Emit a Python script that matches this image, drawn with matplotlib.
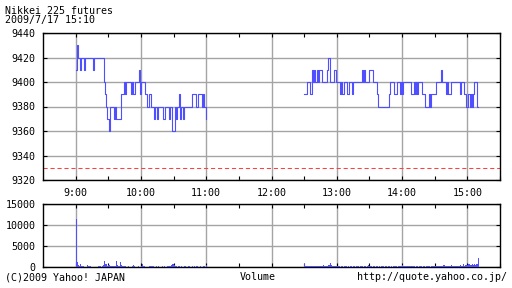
import matplotlib
matplotlib.use("Agg")
import matplotlib.pyplot as plt
import numpy as np

title = "Nikkei 225 futures"
stamp = "2009/7/17 15:10"
prev_close = 9330

hour_ticks = [9, 10, 11, 12, 13, 14, 15]
hour_labels = ["9:00", "10:00", "11:00", "12:00", "13:00", "14:00", "15:00"]
price_ticks = [9320, 9340, 9360, 9380, 9400, 9420, 9440]
vol_ticks = [0, 5000, 10000, 15000]

# morning session 9:00-11:00, one value per minute
am_price = [
    9410, 9430, 9420, 9420, 9410, 9420, 9420, 9420, 9410, 9420,
    9420, 9420, 9420, 9420, 9420, 9420, 9410, 9420, 9420, 9420,
    9420, 9420, 9420, 9420, 9420, 9420, 9400, 9390, 9380, 9370,
    9370, 9360, 9380, 9380, 9380, 9370, 9380, 9370, 9370, 9370,
    9370, 9370, 9390, 9390, 9400, 9390, 9400, 9400, 9400, 9400,
    9400, 9390, 9400, 9390, 9390, 9400, 9400, 9400, 9410, 9390,
    9400, 9400, 9400, 9400, 9390, 9390, 9380, 9390, 9390, 9380,
    9380, 9380, 9370, 9380, 9380, 9370, 9380, 9380, 9380, 9380,
    9370, 9370, 9380, 9380, 9380, 9380, 9370, 9380, 9380, 9360,
    9360, 9380, 9370, 9380, 9380, 9390, 9370, 9380, 9380, 9370,
    9380, 9380, 9380, 9380, 9380, 9380, 9380, 9390, 9390, 9390,
    9390, 9380, 9390, 9390, 9390, 9390, 9380, 9390, 9380, 9380,
    9370]

# afternoon session 12:30-15:10, one value per minute
pm_price = [
    9390, 9390, 9390, 9400, 9400, 9390, 9390, 9410, 9400, 9410,
    9400, 9400, 9410, 9400, 9410, 9410, 9400, 9400, 9400, 9400,
    9400, 9410, 9420, 9420, 9400, 9400, 9400, 9410, 9410, 9400,
    9400, 9400, 9400, 9390, 9400, 9390, 9390, 9400, 9400, 9390,
    9390, 9400, 9400, 9400, 9390, 9400, 9400, 9400, 9400, 9400,
    9400, 9400, 9400, 9410, 9400, 9410, 9400, 9400, 9400, 9400,
    9410, 9410, 9410, 9400, 9400, 9400, 9400, 9390, 9380, 9380,
    9380, 9380, 9380, 9380, 9380, 9380, 9380, 9380, 9390, 9400,
    9400, 9400, 9400, 9390, 9390, 9400, 9400, 9400, 9390, 9400,
    9390, 9400, 9400, 9400, 9400, 9400, 9400, 9400, 9390, 9390,
    9390, 9400, 9390, 9400, 9390, 9400, 9400, 9400, 9390, 9390,
    9390, 9380, 9380, 9380, 9380, 9390, 9380, 9390, 9390, 9390,
    9390, 9400, 9400, 9400, 9400, 9400, 9410, 9400, 9400, 9400,
    9390, 9400, 9390, 9390, 9390, 9400, 9400, 9400, 9400, 9400,
    9400, 9400, 9400, 9390, 9400, 9400, 9400, 9390, 9390, 9380,
    9380, 9390, 9380, 9390, 9380, 9390, 9400, 9400, 9400, 9380,
    9380]

am_volume = [
    11500, 1300, 500, 300, 600, 300, 200, 150, 100, 100,
    400, 350, 300, 300, 100, 80, 60, 50, 60, 80,
    100, 150, 200, 100, 300, 400, 1400, 800, 600, 300,
    500, 400, 200, 300, 350, 250, 300, 1500, 400, 200,
    150, 1200, 400, 300, 200, 150, 100, 100, 350, 100,
    80, 100, 150, 500, 120, 100, 80, 300, 100, 80,
    120, 600, 200, 150, 100, 80, 100, 150, 200, 120,
    300, 150, 100, 80, 300, 100, 150, 80, 100, 200,
    100, 300, 100, 80, 200, 350, 150, 300, 500, 700,
    400, 200, 150, 100, 200, 120, 100, 300, 100, 80,
    250, 100, 80, 300, 150, 100, 80, 300, 100, 120,
    80, 300, 100, 80, 200, 100, 80, 300, 120, 100,
    400]

pm_volume = [
    600, 300, 250, 200, 300, 250, 200, 300, 250, 200,
    300, 200, 250, 300, 200, 300, 250, 400, 300, 250,
    200, 300, 400, 500, 950, 400, 300, 250, 200, 150,
    300, 200, 150, 100, 150, 200, 100, 150, 200, 100,
    150, 100, 200, 150, 100, 300, 150, 100, 200, 150,
    100, 150, 300, 150, 100, 200, 150, 100, 150, 400,
    200, 150, 100, 150, 200, 100, 150, 200, 100, 150,
    100, 200, 150, 100, 150, 200, 100, 150, 200, 100,
    150, 100, 200, 150, 300, 100, 150, 200, 350, 150,
    400, 300, 200, 150, 200, 300, 150, 200, 250, 150,
    200, 150, 100, 200, 150, 100, 300, 150, 100, 200,
    150, 100, 150, 300, 150, 200, 100, 150, 200, 250,
    200, 150, 300, 200, 150, 350, 200, 150, 400, 200,
    150, 300, 250, 200, 150, 500, 200, 250, 300, 200,
    250, 300, 200, 400, 300, 250, 600, 300, 400, 500,
    500, 600, 400, 500, 650, 500, 600, 550, 600, 700,
    2250]

am_start, pm_start = 9.0, 12.5

FONT = "DejaVu Sans Mono"
FS = 7.2
BLUE = "#4F4FFF"
GRID = "#A4A4A4"

plt.rcParams["font.family"] = [FONT]

fig = plt.figure(figsize=(5.12, 2.88), dpi=100)
W, H = 512, 288
ax = fig.add_axes([43 / W, (H - 180) / H, 457 / W, 147 / H])
axv = fig.add_axes([43 / W, (H - 267) / H, 457 / W, 63 / H])

am_t = am_start + np.arange(len(am_price)) / 60.0
pm_t = pm_start + np.arange(len(pm_price)) / 60.0

ax.plot(am_t, am_price, drawstyle="steps-post", color=BLUE, lw=0.8, zorder=3)
ax.plot(pm_t, pm_price, drawstyle="steps-post", color=BLUE, lw=0.8, zorder=3)
ax.axhline(prev_close, color="#FF4040", lw=0.75, dashes=(4, 2.7), zorder=2)

axv.bar(am_start + np.arange(len(am_volume)) / 60.0, am_volume, width=1 / 60.0,
        align="edge", color=BLUE, lw=0, zorder=3)
axv.bar(pm_start + np.arange(len(pm_volume)) / 60.0, pm_volume, width=1 / 60.0,
        align="edge", color=BLUE, lw=0, zorder=3)

half_hours = [h + 0.5 for h in hour_ticks[:-1]] + [15.5]
for a in (ax, axv):
    a.set_xlim(8.5, 15.5)
    a.set_xticks(hour_ticks)
    a.set_xticks(half_hours, minor=True)
    a.grid(True, which="major", color=GRID, lw=1.0, zorder=1)
    a.set_axisbelow(True)
    for s in a.spines.values():
        s.set_linewidth(1.0)
        s.set_color("black")
    a.tick_params(which="both", direction="in", top=True, right=True,
                  length=3.2, width=0.8, color="black", labelsize=FS, pad=5.5)
    a.tick_params(which="minor", length=3.0)

ax.set_ylim(9320, 9440)
ax.set_yticks(price_ticks)
ax.set_yticklabels([str(v) for v in price_ticks])
ax.set_xticklabels(hour_labels)

axv.set_ylim(0, 15000)
axv.set_yticks(vol_ticks)
axv.set_yticklabels([str(v) for v in vol_ticks])
axv.set_xticklabels([])

fig.text(5 / W, 1 - 11.5 / H, title, fontsize=FS, va="center", ha="left")
fig.text(5 / W, 1 - 20.5 / H, stamp, fontsize=FS, va="center", ha="left")
fig.text(5 / W, 1 - 277 / H, "(C)2009 Yahoo! JAPAN", fontsize=FS, va="center", ha="left")
fig.text(258 / W, 1 - 277 / H, "Volume", fontsize=FS, va="center", ha="center")
fig.text(507 / W, 1 - 277 / H, "http://quote.yahoo.co.jp/", fontsize=FS, va="center", ha="right")

fig.savefig("out.png", dpi=100, facecolor="white")
